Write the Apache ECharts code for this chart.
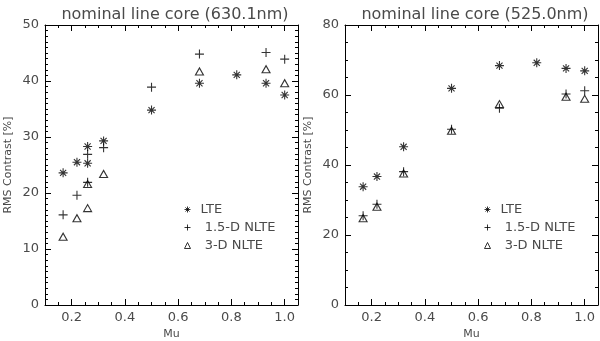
<!DOCTYPE html>
<html>
<head>
<meta charset="utf-8">
<script src="https://cdn.jsdelivr.net/npm/echarts@6/dist/echarts.min.js"></script>
<style>
  html, body { margin: 0; padding: 0; background: #fff; }
  #chart { width: 600px; height: 341px; }
</style>
</head>
<body>
<div id="chart"></div>
<script>
// 630.1nm 面板 [mu, RMS contrast %]
const lte630 = [[0.168, 23.6], [0.22, 25.5], [0.26, 28.3], [0.26, 25.3], [0.32, 29.3], [0.50, 34.8], [0.68, 39.6], [0.82, 41.1], [0.93, 39.6], [1.00, 37.5]];
const nlte15_630 = [[0.168, 16.1], [0.22, 19.6], [0.26, 26.9], [0.26, 21.9], [0.32, 28.1], [0.50, 38.9], [0.68, 44.8], [0.93, 45.1], [1.00, 43.9]];
const nlte3d_630 = [[0.168, 12.2], [0.22, 15.5], [0.26, 21.6], [0.26, 17.3], [0.32, 23.4], [0.68, 41.7], [0.93, 42.1], [1.00, 39.6]];

// 525.0nm 面板
const lte525 = [[0.168, 33.8], [0.22, 36.7], [0.32, 45.2], [0.50, 61.9], [0.68, 68.4], [0.82, 69.2], [0.93, 67.6], [1.00, 66.9]];
const nlte15_525 = [[0.168, 25.5], [0.22, 28.8], [0.32, 38.1], [0.50, 50.2], [0.68, 56.2], [0.93, 60.3], [1.00, 61.2]];
const nlte3d_525 = [[0.168, 24.8], [0.22, 28.1], [0.32, 37.6], [0.50, 49.8], [0.68, 57.4], [0.93, 59.5], [1.00, 58.9]];

const titles = ['nominal line core (630.1nm)', 'nominal line core (525.0nm)'];
const seriesNames = ['LTE', ' 1.5-D NLTE', ' 3-D NLTE'];
const muTicks = [0.2, 0.4, 0.6, 0.8, 1.0];
const muRange = [0.1, 1.05];
const yRanges = [[0, 50, 10, 10], [0, 80, 20, 4]]; // min, max, interval, minor split

const ASTER = 'path://M0,5L10,5M5,0L5,10M1.6,1.6L8.4,8.4M1.6,8.4L8.4,1.6';
const PLUS = 'path://M0,5L10,5M5,0L5,10';
const TRI = 'path://M0,10L5,0L10,10Z';
const symbols = [ASTER, PLUS, TRI];
const symSizes = [9, 9, [8, 7]];

const font = 'DejaVu Sans';
const txtColor = '#4a4a4a';

let chart = echarts.init(document.getElementById('chart'));

let grids = [], xAxes = [], yAxes = [], series = [], legends = [], texts = [];
const panelLeft = [45, 345];

panelLeft.forEach((left, p) => {
  grids.push({left: left, top: 25, width: 253, height: 280, outerBoundsMode: 'none', containLabel: false});
  const line = {show: true, lineStyle: {color: '#000', width: 1}};
  // 底部：小刻度 + 标签
  xAxes.push({
    gridIndex: p, type: 'value', position: 'bottom', min: muRange[0], max: muRange[1], interval: 0.05,
    axisLine: line, splitLine: {show: false},
    axisTick: {inside: true, length: 3, lineStyle: {color: '#000'}},
    axisLabel: {customValues: muTicks, margin: 6, color: txtColor, fontFamily: font, fontSize: 13,
      formatter: v => v.toFixed(1)},
    name: 'Mu', nameLocation: 'middle', nameGap: 22,
    nameTextStyle: {color: txtColor, fontFamily: font, fontSize: 11}
  });
  // 底部：大刻度
  xAxes.push({
    gridIndex: p, type: 'value', position: 'bottom', min: muRange[0], max: muRange[1],
    axisLine: {show: false}, splitLine: {show: false}, axisLabel: {show: false},
    axisTick: {inside: true, length: 6, customValues: muTicks, lineStyle: {color: '#000'}}
  });
  // 顶部
  xAxes.push({
    gridIndex: p, type: 'value', position: 'top', min: muRange[0], max: muRange[1], interval: 0.05,
    axisLine: line, splitLine: {show: false}, axisLabel: {show: false},
    axisTick: {inside: true, length: 3, lineStyle: {color: '#000'}}
  });
  xAxes.push({
    gridIndex: p, type: 'value', position: 'top', min: muRange[0], max: muRange[1],
    axisLine: {show: false}, splitLine: {show: false}, axisLabel: {show: false},
    axisTick: {inside: true, length: 6, customValues: muTicks, lineStyle: {color: '#000'}}
  });
  const yr = yRanges[p];
  yAxes.push({
    gridIndex: p, type: 'value', position: 'left', min: yr[0], max: yr[1], interval: yr[2],
    axisLine: line, splitLine: {show: false},
    axisTick: {inside: true, length: 6, lineStyle: {color: '#000'}},
    minorTick: {show: true, splitNumber: yr[3], length: 3, lineStyle: {color: '#000'}},
    axisLabel: {margin: 6, color: txtColor, fontFamily: font, fontSize: 13},
    name: 'RMS Contrast [%]', nameLocation: 'middle', nameGap: 31,
    nameTextStyle: {color: txtColor, fontFamily: font, fontSize: 11}
  });
  yAxes.push({
    gridIndex: p, type: 'value', position: 'right', min: yr[0], max: yr[1], interval: yr[2],
    axisLine: line, splitLine: {show: false}, axisLabel: {show: false},
    axisTick: {inside: true, length: 6, lineStyle: {color: '#000'}},
    minorTick: {show: true, splitNumber: yr[3], length: 3, lineStyle: {color: '#000'}}
  });

  const sets = p === 0 ? [lte630, nlte15_630, nlte3d_630] : [lte525, nlte15_525, nlte3d_525];
  sets.forEach((d, i) => {
    series.push({
      name: seriesNames[i], type: 'scatter', xAxisIndex: p * 4, yAxisIndex: p * 2,
      data: d, symbol: symbols[i], symbolSize: symSizes[i], silent: true,
      itemStyle: {color: 'rgba(0,0,0,0)', borderColor: '#000', borderWidth: 1.1}
    });
  });

  legends.push({
    left: left + 134, top: 198, orient: 'vertical', itemWidth: 6, itemHeight: 6, itemGap: 5,
    selectedMode: false,
    data: seriesNames.map((n, i) => ({name: n, icon: symbols[i]})),
    itemStyle: {color: 'rgba(0,0,0,0)', borderColor: '#000', borderWidth: 1},
    textStyle: {color: txtColor, fontFamily: font, fontSize: 13, padding: [0, 0, 0, 5]}
  });

  texts.push({
    text: titles[p], left: left + 125, top: 2, textAlign: 'center',
    textStyle: {color: txtColor, fontFamily: font, fontSize: 16, fontWeight: 'normal'}
  });
});

let option = {
  backgroundColor: '#fff',
  animation: false,
  title: texts,
  legend: legends,
  grid: grids,
  xAxis: xAxes,
  yAxis: yAxes,
  series: series
};
chart.setOption(option);
</script>
</body>
</html>
